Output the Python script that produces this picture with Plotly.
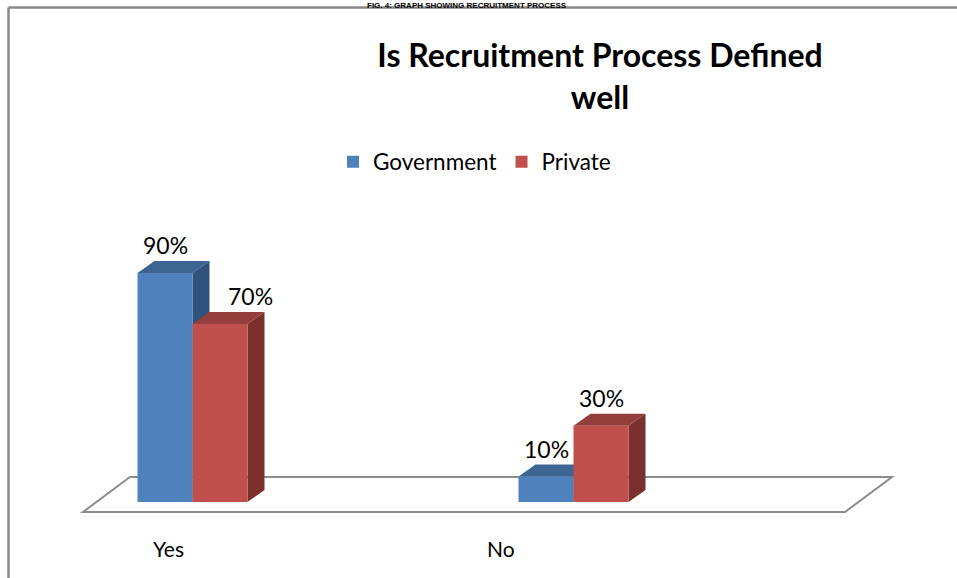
import plotly.graph_objects as go

# ---------------- data ----------------
categories = ["Yes", "No"]
series_names = ["Government", "Private"]
government = [90, 10]
private = [70, 30]
value_labels_gov = ["90%", "10%"]
value_labels_priv = ["70%", "30%"]
title_text = "Is Recruitment Process Defined<br>well"
caption_text = "FIG. 4: GRAPH SHOWING RECRUITMENT PROCESS"

# ---------------- styles / geometry ----------------
W, H = 957, 578
PX_PER_CAT = 381.0      # px between category centres
X0_PX = 192.5           # px of first category centre
PX_PER_PCT = 2.544      # px per 1 %
Y0_PX = 502.0           # px of baseline

front_cols = ["#4F81BD", "#C0504D"]
top_cols = ["#3C6592", "#953F3C"]
side_cols = ["#31527C", "#7B302E"]

BAR_W = 55 / PX_PER_CAT
DX = 17 / PX_PER_CAT
DY = 12 / PX_PER_PCT

x_range = [-X0_PX / PX_PER_CAT, (W - X0_PX) / PX_PER_CAT]
y_range = [(Y0_PX - H) / PX_PER_PCT, Y0_PX / PX_PER_PCT]

xpos = list(range(len(categories)))
font = "Lato, 'Open Sans', sans-serif"

fig = go.Figure()

series = [government, private]
offsets = [-BAR_W, 0.0]
for i, (name, vals) in enumerate(zip(series_names, series)):
    fig.add_trace(go.Bar(
        x=xpos, y=vals, name=name, width=BAR_W, offset=offsets[i],
        marker=dict(color=front_cols[i], line=dict(width=0)),
        hoverinfo="skip",
    ))

shapes = []
# floor (3D base)
f_front_y = -10 / PX_PER_PCT
f_back_y = 25 / PX_PER_PCT
f_l = x_range[0] + 83 / PX_PER_CAT
f_r = x_range[0] + 845 / PX_PER_CAT
f_dx = 47 / PX_PER_CAT
shapes.append(dict(
    type="path", xref="x", yref="y", layer="below",
    path=f"M{f_l},{f_front_y} L{f_r},{f_front_y} L{f_r+f_dx},{f_back_y} L{f_l+f_dx},{f_back_y} Z",
    line=dict(color="#8C8C8C", width=2), fillcolor="white"))

for i, vals in enumerate(series):
    for xc, v in zip(xpos, vals):
        x1 = xc + offsets[i]
        x2 = x1 + BAR_W
        # top face
        shapes.append(dict(
            type="path", xref="x", yref="y", layer="below",
            path=f"M{x1},{v} L{x2},{v} L{x2+DX},{v+DY} L{x1+DX},{v+DY} Z",
            line=dict(width=0), fillcolor=top_cols[i]))
        # side face
        shapes.append(dict(
            type="path", xref="x", yref="y", layer="below",
            path=f"M{x2},0 L{x2+DX},{DY} L{x2+DX},{v+DY} L{x2},{v} Z",
            line=dict(width=0), fillcolor=side_cols[i]))

# frame lines
shapes.append(dict(type="line", xref="paper", yref="paper",
                   x0=8.5 / W, x1=1, y0=1 - 7.5 / H, y1=1 - 7.5 / H,
                   line=dict(color="#888888", width=2.5)))
shapes.append(dict(type="line", xref="paper", yref="paper",
                   x0=8.5 / W, x1=8.5 / W, y0=0, y1=1 - 7.5 / H,
                   line=dict(color="#888888", width=2.5)))

annotations = []
label_xshift = {("Private", 0): 30}
for i, (vals, labs) in enumerate(zip(series, [value_labels_gov, value_labels_priv])):
    for j, (v, t) in enumerate(zip(vals, labs)):
        annotations.append(dict(
            x=xpos[j] + offsets[i] + BAR_W / 2, y=v, xref="x", yref="y",
            text=t, showarrow=False, yanchor="middle", yshift=28,
            xshift=label_xshift.get((series_names[i], j), 0),
            font=dict(family=font, size=23, color="#000000")))

cat_xshift = [-24.5, -73]
for j, c in enumerate(categories):
    annotations.append(dict(
        x=xpos[j], y=1 - 548 / H, xref="x", yref="paper", text=c,
        showarrow=False, yanchor="middle", xshift=cat_xshift[j],
        font=dict(family=font, size=21, color="#000000")))

annotations.append(dict(
    x=467 / W, y=1, xref="paper", yref="paper", text="<b>" + caption_text + "</b>",
    showarrow=False, yanchor="top", yshift=1,
    font=dict(family="Liberation Sans, Arial, sans-serif", size=8, color="#000000")))

fig.update_layout(
    width=W, height=H,
    margin=dict(l=0, r=0, t=0, b=0),
    paper_bgcolor="white", plot_bgcolor="white",
    barmode="overlay",
    title=dict(text="<b>" + title_text + "</b>", x=600 / W, xanchor="center",
               y=1 - 67 / H, yanchor="top",
               font=dict(family=font, size=32, color="#000000")),
    xaxis=dict(range=x_range, visible=False, fixedrange=True),
    yaxis=dict(range=y_range, visible=False, fixedrange=True),
    legend=dict(orientation="h", x=333 / W, xanchor="left", y=1 - 162 / H, yanchor="middle",
                font=dict(family=font, size=22.5, color="#000000"),
                bgcolor="rgba(0,0,0,0)", traceorder="normal"),
    shapes=shapes,
    annotations=annotations,
    showlegend=True,
)

fig.write_html("out.html")
